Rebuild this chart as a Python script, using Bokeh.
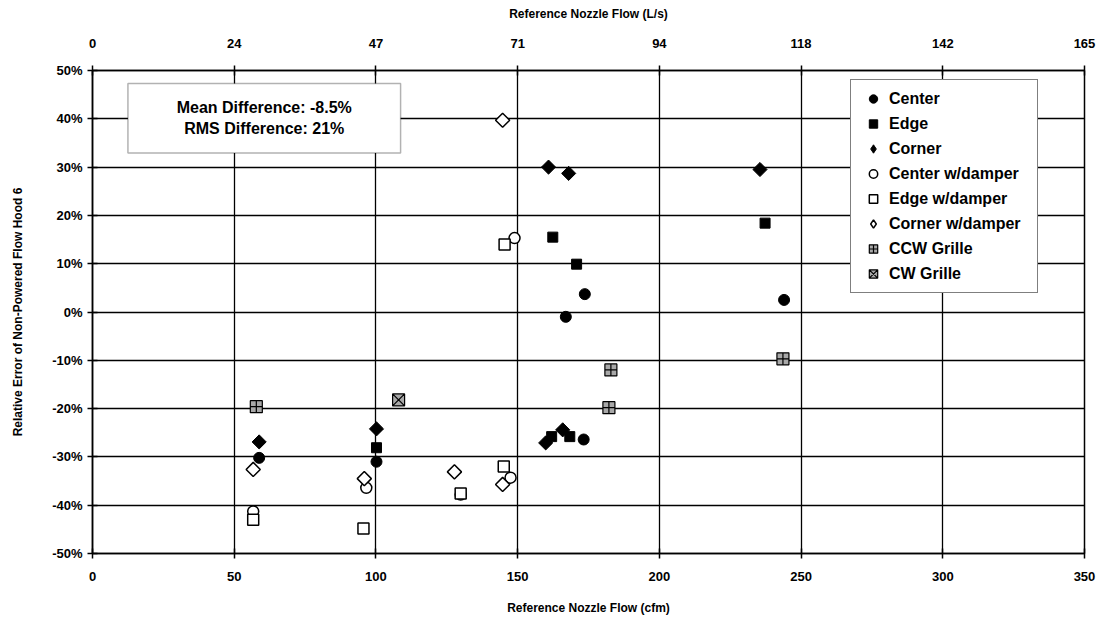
import math
from bokeh.plotting import figure
from bokeh.models import LinearAxis, FixedTicker, PrintfTickFormatter, BoxAnnotation, Label, Range1d
from bokeh.embed import file_html
from bokeh.resources import INLINE

FONT = "Liberation Sans"

# ticks
cfm_ticks = [0, 50, 100, 150, 200, 250, 300, 350]
ls_tick_labels = ["0", "24", "47", "71", "94", "118", "142", "165"]
pct_ticks = [-50, -40, -30, -20, -10, 0, 10, 20, 30, 40, 50]

# series (x = reference nozzle flow in cfm, y = relative error in %)
center_x = [58.8, 100.2, 167.0, 173.7, 173.3, 244.0]
center_y = [-30.2, -31.0, -1.0, 3.7, -26.4, 2.5]

edge_x = [100.2, 162.4, 170.8, 162.0, 168.4, 237.3]
edge_y = [-28.1, 15.5, 9.9, -25.8, -25.8, 18.4]

corner_x = [58.8, 100.2, 160.9, 168.0, 159.9, 165.9, 235.5]
corner_y = [-26.9, -24.2, 30.0, 28.7, -27.1, -24.4, 29.5]

center_d_x = [56.7, 96.6, 129.9, 147.5, 148.9]
center_d_y = [-41.3, -36.4, -37.8, -34.3, 15.3]

edge_d_x = [56.7, 95.6, 129.9, 145.1, 145.4]
edge_d_y = [-43.0, -44.8, -37.6, -32.0, 14.0]

corner_d_x = [56.7, 95.9, 127.7, 144.7, 144.7]
corner_d_y = [-32.6, -34.5, -33.1, -35.7, 39.7]

ccw_x = [57.8, 182.9, 182.2, 243.6]
ccw_y = [-19.6, -12.0, -19.8, -9.7]

cw_x = [108.0]
cw_y = [-18.2]

stats_lines = ["Mean Difference: -8.5%", "RMS Difference: 21%"]

p = figure(width=1097, height=617, output_backend="svg", toolbar_location=None,
           x_range=Range1d(0, 350), y_range=Range1d(-50, 50),
           min_border_left=92, min_border_right=13, min_border_top=70, min_border_bottom=64)
p.background_fill_color = "white"
p.border_fill_color = "white"
p.outline_line_color = "black"
p.outline_line_width = 1.5

# grids
for g in (p.xgrid, p.ygrid):
    g.grid_line_color = "black"
    g.grid_line_width = 1.3
p.xgrid.ticker = FixedTicker(ticks=cfm_ticks)
p.ygrid.ticker = FixedTicker(ticks=pct_ticks)

def style_axis(ax):
    ax.axis_line_color = "black"
    ax.axis_line_width = 1.5
    ax.major_tick_line_color = "black"
    ax.major_tick_line_width = 1.5
    ax.major_tick_in = 5
    ax.major_tick_out = 5
    ax.minor_tick_line_color = None
    ax.major_label_text_font = FONT
    ax.major_label_text_font_style = "bold"
    ax.major_label_text_font_size = "13px"
    ax.major_label_text_color = "black"
    ax.axis_label_text_font = FONT
    ax.axis_label_text_font_style = "bold"
    ax.axis_label_text_font_size = "12px"
    ax.axis_label_text_color = "black"

xb = p.xaxis[0]
xb.ticker = FixedTicker(ticks=cfm_ticks)
xb.axis_label = "Reference Nozzle Flow (cfm)"
style_axis(xb)
xb.major_label_standoff = 13
xb.axis_label_standoff = 17

yl = p.yaxis[0]
yl.ticker = FixedTicker(ticks=pct_ticks)
yl.formatter = PrintfTickFormatter(format="%d%%")
yl.axis_label = "Relative Error of Non-Powered Flow Hood 6"
style_axis(yl)
yl.major_label_standoff = 5
yl.axis_label_standoff = 24

top = LinearAxis(ticker=FixedTicker(ticks=cfm_ticks),
                 major_label_overrides={t: s for t, s in zip(cfm_ticks, ls_tick_labels)},
                 axis_label="Reference Nozzle Flow (L/s)")
style_axis(top)
top.major_label_standoff = 18
top.axis_label_standoff = 15
p.add_layout(top, "above")

# stats box
box = BoxAnnotation(left=12.5, right=108.7, top=47.3, bottom=32.9,
                    fill_color="white", fill_alpha=1.0, line_color="black", line_width=1.5)
p.add_layout(box)
for yy, txt in zip([42.4, 38.0], stats_lines):
    p.add_layout(Label(x=60.6, y=yy, text=txt, text_align="center", text_baseline="middle",
                       text_font=FONT, text_font_style="bold", text_font_size="16px",
                       text_color="black"))

diamond_angle = math.pi / 4

# series (legend order: Center, Edge, Corner, Center w/damper, Edge w/damper, Corner w/damper, CCW, CW)
p.scatter(center_x, center_y, marker="circle", size=11, fill_color="black", line_color="black",
          legend_label="Center")
p.scatter(edge_x, edge_y, marker="square", size=10, fill_color="black", line_color="black",
          legend_label="Edge")
# hidden twin renderers provide the diamond legend swatch (legend glyphs ignore angle)
p.scatter(corner_x, corner_y, marker="diamond", size=14, fill_color="black", line_color="black",
          legend_label="Corner", visible=False)
p.scatter(corner_x, corner_y, marker="square", angle=diamond_angle, size=10, fill_color="black",
          line_color="black")
p.scatter(center_d_x, center_d_y, marker="circle", size=11, fill_color="white", line_color="black",
          line_width=1.5, legend_label="Center w/damper")
p.scatter(edge_d_x, edge_d_y, marker="square", size=11, fill_color="white", line_color="black",
          line_width=1.5, legend_label="Edge w/damper")
p.scatter(corner_d_x, corner_d_y, marker="diamond", size=14, fill_color="white", line_color="black",
          line_width=1.5, legend_label="Corner w/damper", visible=False)
p.scatter(corner_d_x, corner_d_y, marker="square", angle=diamond_angle, size=10, fill_color="white",
          line_color="black", line_width=1.5)
p.scatter(ccw_x, ccw_y, marker="square_cross", size=12, fill_color="#a8a8a8", line_color="black",
          line_width=1.2, legend_label="CCW Grille")
p.scatter(cw_x, cw_y, marker="square_x", size=12, fill_color="#a8a8a8", line_color="black",
          line_width=1.2, legend_label="CW Grille")

lg = p.legend[0]
lg.location = (758, 260)
lg.border_line_color = "black"
lg.border_line_width = 1.5
lg.background_fill_color = "white"
lg.background_fill_alpha = 1.0
lg.inactive_fill_alpha = 0.0
lg.label_text_font = FONT
lg.label_text_font_style = "bold"
lg.label_text_font_size = "16px"
lg.label_text_color = "black"
lg.padding = 8
lg.spacing = 4
lg.glyph_width = 28
lg.glyph_height = 21
lg.label_height = 21
lg.label_width = 140
lg.label_standoff = 2
lg.margin = 0

open("out.html", "w").write(file_html(p, INLINE))
